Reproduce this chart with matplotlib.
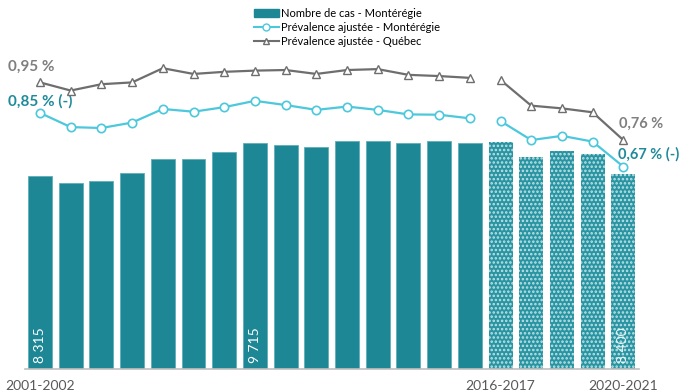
import matplotlib
matplotlib.use("Agg")
import matplotlib.pyplot as plt
from matplotlib.lines import Line2D
from matplotlib.patches import Patch
import numpy as np

plt.rcParams['font.family'] = ['Lato', 'DejaVu Sans']
plt.rcParams['hatch.linewidth'] = 1.2

years = [f"{y}-{y+1}" for y in range(2001, 2021)]
cases = [8315, 8015, 8100, 8450, 9050, 9050, 9350, 9715, 9650, 9570,
         9830, 9830, 9740, 9830, 9740, 9780, 9140, 9400, 9270, 8400]
prev_monteregie = [0.848, 0.801, 0.798, 0.816, 0.861, 0.852, 0.867, 0.888, 0.874, 0.858,
                   0.869, 0.858, 0.843, 0.842, 0.830, 0.821, 0.758, 0.772, 0.753, 0.670]
prev_quebec = [0.949, 0.922, 0.943, 0.949, 0.996, 0.977, 0.984, 0.988, 0.990, 0.977,
               0.990, 0.993, 0.974, 0.970, 0.964, 0.957, 0.872, 0.863, 0.850, 0.758]
shown_ticks = {0: "2001-2002", 15: "2016-2017", 19: "2020-2021"}
bar_labels = {0: "8 315", 7: "9 715", 19: "8 400"}
n_solid = 15

BAR = "#1E8795"
CYAN = "#4CC8DC"
GRAY = "#6E6E6E"
LAB_TEAL = "#1F8A9A"
LAB_GRAY = "#7F7F7F"

W, H = 683, 392
fig = plt.figure(figsize=(W/100, H/100), dpi=100)
base_px = 369
top_px = 20
left_px = 24.65
right_px = 638.7
ax = fig.add_axes([left_px/W, (H-base_px)/H, (right_px-left_px)/W, (base_px-top_px)/H])
height_px = base_px - top_px
ax.set_ylim(0, height_px*43.08)
ax.set_xlim(-0.5, len(years)-0.5)
x = np.arange(len(years))

for i, v in enumerate(cases):
    if i < n_solid:
        ax.bar(i, v, width=0.78, color=BAR, edgecolor="#5FAFB9", linewidth=0.6, zorder=2)
    else:
        ax.bar(i, v, width=0.78, facecolor="#2A95A2", edgecolor="#BFE3E8", hatch="....",
               linewidth=0, zorder=2)
for i, t in bar_labels.items():
    ax.text(i, 260, t, rotation=90, ha="center", va="bottom",
            color="white" if i < n_solid else "#E6F4F6",
            fontsize=10, zorder=5)

ax2 = ax.twinx()
ax2.set_ylim(0, height_px/302)
for seg in (slice(0, n_solid), slice(n_solid, len(years))):
    ax2.plot(x[seg], prev_monteregie[seg], color=CYAN, lw=1.6, marker="o", ms=6,
             mfc="white", mec=CYAN, mew=1.2, zorder=4)
    ax2.plot(x[seg], prev_quebec[seg], color=GRAY, lw=1.6, marker="^", ms=6,
             mfc="white", mec=GRAY, mew=1.0, zorder=4)

fs_lab = 11
ax2.annotate("0,95 %", (0, prev_quebec[0]), xytext=(-32, 16), textcoords="offset pixels",
             ha="left", va="center", color=LAB_GRAY, fontsize=fs_lab, fontweight="bold")
ax2.annotate("0,85 % (-)", (0, prev_monteregie[0]), xytext=(-32, 12), textcoords="offset pixels",
             ha="left", va="center", color=LAB_TEAL, fontsize=fs_lab, fontweight="bold")
ax2.annotate("0,76 %", (19, prev_quebec[19]), xytext=(-4, 16), textcoords="offset pixels",
             ha="left", va="center", color=LAB_GRAY, fontsize=10.5, fontweight="bold",
             annotation_clip=False)
ax2.annotate("0,67 % (-)", (19, prev_monteregie[19]), xytext=(-5, 12), textcoords="offset pixels",
             ha="left", va="center", color=LAB_TEAL, fontsize=10.5, fontweight="bold",
             annotation_clip=False)

for a in (ax, ax2):
    for s in ("top", "right", "left"):
        a.spines[s].set_visible(False)
    a.set_yticks([])
ax2.spines["bottom"].set_visible(False)
ax.spines["bottom"].set_color("#BFBFBF")
ax.spines["bottom"].set_linewidth(1.2)
ax.set_xticks(list(shown_ticks.keys()))
ax.set_xticklabels(list(shown_ticks.values()), fontsize=10, color="#595959")
ax.tick_params(axis="x", length=0, pad=8)

handles = [Patch(facecolor=BAR, edgecolor=BAR),
           Line2D([], [], color=CYAN, marker="o", mfc="white", mec=CYAN, ms=5, lw=1.5),
           Line2D([], [], color=GRAY, marker="^", mfc="white", mec=GRAY, ms=5, lw=1.5)]
labels = ["Nombre de cas - Montérégie", "Prévalence ajustée - Montérégie",
          "Prévalence ajustée - Québec"]
fig.legend(handles, labels, loc="upper left", bbox_to_anchor=(252/W, 1 - 6/H),
           frameon=False, fontsize=8, handlelength=2.2, handletextpad=0.2,
           labelspacing=0.25, borderaxespad=0, borderpad=0.2)

fig.savefig("out.png", dpi=100)
